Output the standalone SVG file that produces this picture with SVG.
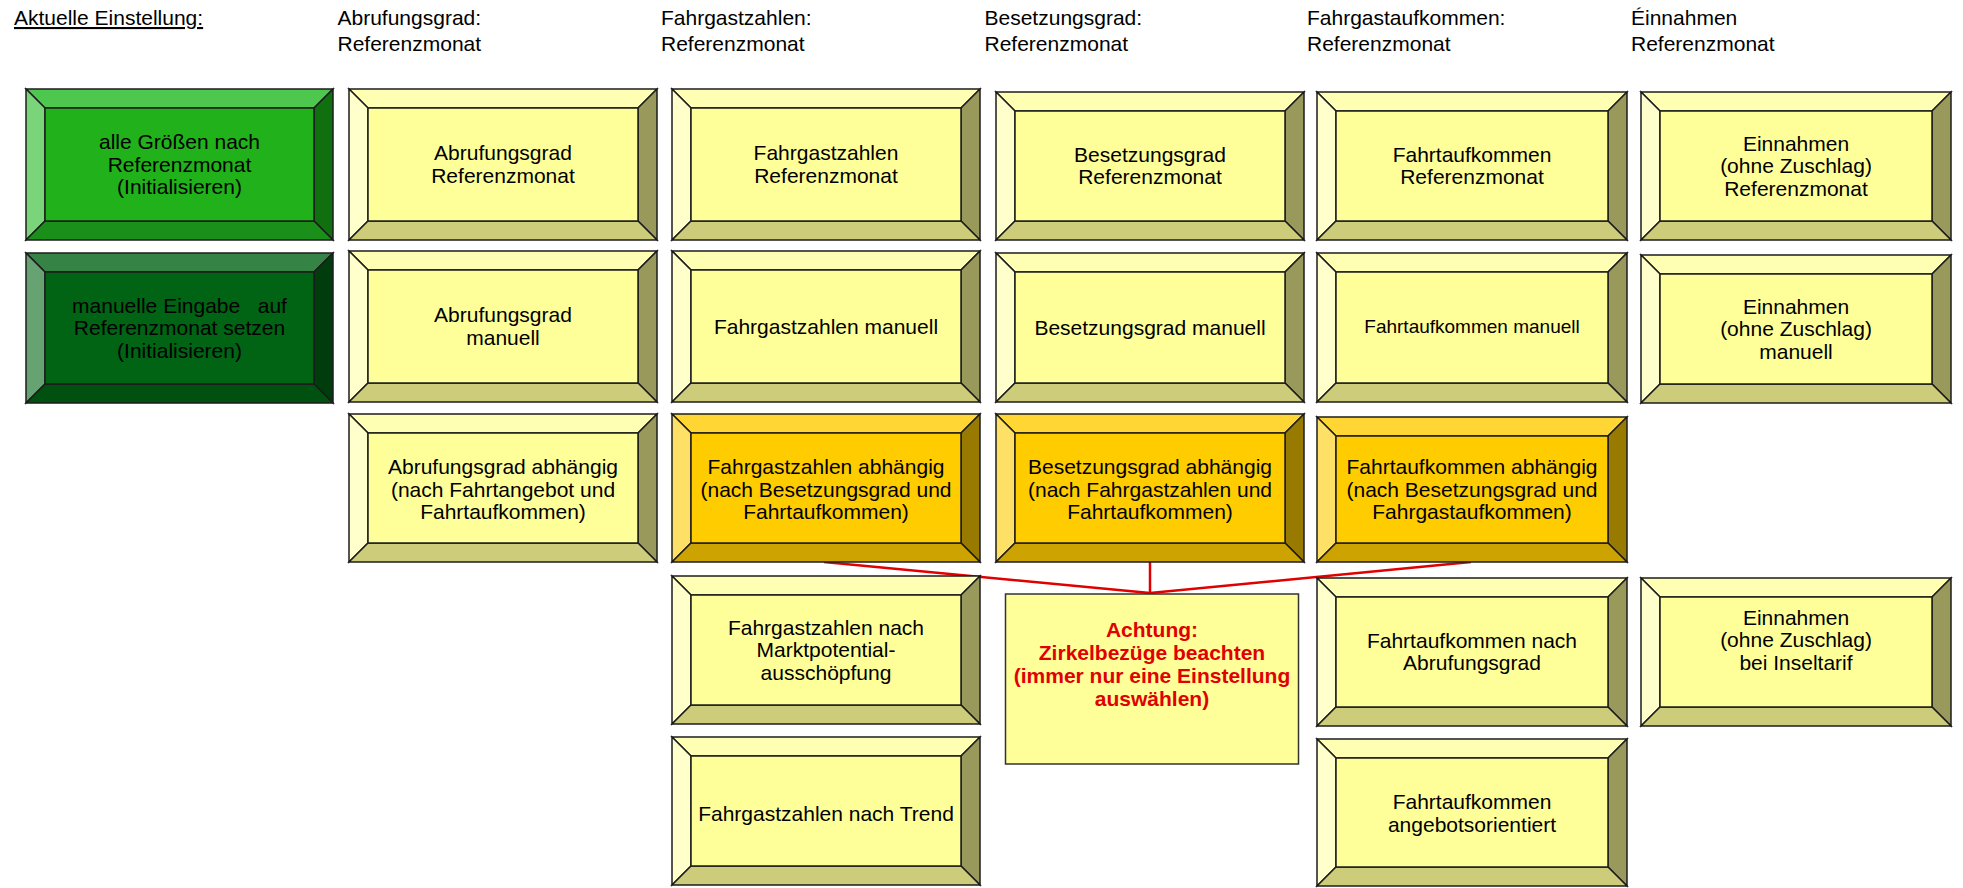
<svg xmlns="http://www.w3.org/2000/svg" width="1963" height="888" viewBox="0 0 1963 888">
<style>
text{font-family:"Liberation Sans",Arial,sans-serif;font-size:21px;fill:#000}
.hd{text-anchor:start}
.bv text{text-anchor:middle}
.bv polygon,.bv rect{stroke:#1c1c1c;stroke-width:1.5;stroke-linejoin:miter}
.y .t{fill:#FFFFB3}.y .l{fill:#FFFFCC}.y .r{fill:#99995C}.y .b{fill:#CCCC7A}.y .c{fill:#FFFF99}
.o .t{fill:#FFD633}.o .l{fill:#FFE066}.o .r{fill:#997A00}.o .b{fill:#CCA300}.o .c{fill:#FFCC00}
.g .t{fill:#4DC74D}.g .l{fill:#7AD57A}.g .r{fill:#107010}.g .b{fill:#1A901A}.g .c{fill:#21B11A}
.d .t{fill:#358446}.d .l{fill:#66A272}.d .r{fill:#003C0C}.d .b{fill:#005010}.d .c{fill:#006414}
.warn rect{fill:#FFFF99;stroke:#333;stroke-width:1.5}
.warn text{fill:#E00000;font-weight:bold;text-anchor:middle}
.conn line{stroke:#E00000;stroke-width:2.5}
</style>

<g id="headers">
<text class="hd" x="14" y="25" text-decoration="underline">Aktuelle Einstellung:</text>
<text class="hd" x="337.5" y="25">Abrufungsgrad:</text>
<text class="hd" x="337.5" y="51">Referenzmonat</text>
<text class="hd" x="661" y="25">Fahrgastzahlen:</text>
<text class="hd" x="661" y="51">Referenzmonat</text>
<text class="hd" x="984.5" y="25">Besetzungsgrad:</text>
<text class="hd" x="984.5" y="51">Referenzmonat</text>
<text class="hd" x="1307" y="25">Fahrgastaufkommen:</text>
<text class="hd" x="1307" y="51">Referenzmonat</text>
<text class="hd" x="1631" y="25">Éinnahmen</text>
<text class="hd" x="1631" y="51">Referenzmonat</text>
</g>

<g id="connectors" class="conn">
<line x1="824" y1="562" x2="1150" y2="593"/>
<line x1="1150" y1="562" x2="1150" y2="593"/>
<line x1="1471" y1="562" x2="1150" y2="593"/>
</g>

<g id="n-init-ref" class="bv g">
<polygon class="t" points="26,89 333,89 314,108 45,108"/>
<polygon class="l" points="26,89 45,108 45,221 26,240"/>
<polygon class="r" points="333,89 333,240 314,221 314,108"/>
<polygon class="b" points="26,240 45,221 314,221 333,240"/>
<rect class="c" x="45" y="108" width="269" height="113"/>
<text x="179.5" y="149">alle Größen nach</text>
<text x="179.5" y="171.5">Referenzmonat</text>
<text x="179.5" y="194">(Initialisieren)</text>
</g>

<g id="n-init-man" class="bv d">
<polygon class="t" points="26,253 333,253 314,272 45,272"/>
<polygon class="l" points="26,253 45,272 45,384 26,403"/>
<polygon class="r" points="333,253 333,403 314,384 314,272"/>
<polygon class="b" points="26,403 45,384 314,384 333,403"/>
<rect class="c" x="45" y="272" width="269" height="112"/>
<text x="179.5" y="312.5" style="white-space:pre">manuelle Eingabe   auf</text>
<text x="179.5" y="335">Referenzmonat setzen</text>
<text x="179.5" y="357.5">(Initialisieren)</text>
</g>

<g id="n-abr-ref" class="bv y">
<polygon class="t" points="349,89 657,89 638,108 368,108"/>
<polygon class="l" points="349,89 368,108 368,221 349,240"/>
<polygon class="r" points="657,89 657,240 638,221 638,108"/>
<polygon class="b" points="349,240 368,221 638,221 657,240"/>
<rect class="c" x="368" y="108" width="270" height="113"/>
<text x="503" y="160.25">Abrufungsgrad</text>
<text x="503" y="182.75">Referenzmonat</text>
</g>

<g id="n-abr-man" class="bv y">
<polygon class="t" points="349,251 657,251 638,270 368,270"/>
<polygon class="l" points="349,251 368,270 368,383 349,402"/>
<polygon class="r" points="657,251 657,402 638,383 638,270"/>
<polygon class="b" points="349,402 368,383 638,383 657,402"/>
<rect class="c" x="368" y="270" width="270" height="113"/>
<text x="503" y="322.25">Abrufungsgrad</text>
<text x="503" y="344.75">manuell</text>
</g>

<g id="n-abr-abh" class="bv y">
<polygon class="t" points="349,414 657,414 638,433 368,433"/>
<polygon class="l" points="349,414 368,433 368,543 349,562"/>
<polygon class="r" points="657,414 657,562 638,543 638,433"/>
<polygon class="b" points="349,562 368,543 638,543 657,562"/>
<rect class="c" x="368" y="433" width="270" height="110"/>
<text x="503" y="474">Abrufungsgrad abhängig</text>
<text x="503" y="496.5">(nach Fahrtangebot und</text>
<text x="503" y="519">Fahrtaufkommen)</text>
</g>

<g id="n-fgz-ref" class="bv y">
<polygon class="t" points="672,89 980,89 961,108 691,108"/>
<polygon class="l" points="672,89 691,108 691,221 672,240"/>
<polygon class="r" points="980,89 980,240 961,221 961,108"/>
<polygon class="b" points="672,240 691,221 961,221 980,240"/>
<rect class="c" x="691" y="108" width="270" height="113"/>
<text x="826" y="160.25">Fahrgastzahlen</text>
<text x="826" y="182.75">Referenzmonat</text>
</g>

<g id="n-fgz-man" class="bv y">
<polygon class="t" points="672,251 980,251 961,270 691,270"/>
<polygon class="l" points="672,251 691,270 691,383 672,402"/>
<polygon class="r" points="980,251 980,402 961,383 961,270"/>
<polygon class="b" points="672,402 691,383 961,383 980,402"/>
<rect class="c" x="691" y="270" width="270" height="113"/>
<text x="826" y="333.5">Fahrgastzahlen manuell</text>
</g>

<g id="n-fgz-abh" class="bv o">
<polygon class="t" points="672,414 980,414 961,433 691,433"/>
<polygon class="l" points="672,414 691,433 691,543 672,562"/>
<polygon class="r" points="980,414 980,562 961,543 961,433"/>
<polygon class="b" points="672,562 691,543 961,543 980,562"/>
<rect class="c" x="691" y="433" width="270" height="110"/>
<text x="826" y="474">Fahrgastzahlen abhängig</text>
<text x="826" y="496.5">(nach Besetzungsgrad und</text>
<text x="826" y="519">Fahrtaufkommen)</text>
</g>

<g id="n-fgz-markt" class="bv y">
<polygon class="t" points="672,576 980,576 961,595 691,595"/>
<polygon class="l" points="672,576 691,595 691,705 672,724"/>
<polygon class="r" points="980,576 980,724 961,705 961,595"/>
<polygon class="b" points="672,724 691,705 961,705 980,724"/>
<rect class="c" x="691" y="595" width="270" height="110"/>
<text x="826" y="634.5">Fahrgastzahlen nach</text>
<text x="826" y="657">Marktpotential-</text>
<text x="826" y="679.5">ausschöpfung</text>
</g>

<g id="n-fgz-trend" class="bv y">
<polygon class="t" points="672,737 980,737 961,756 691,756"/>
<polygon class="l" points="672,737 691,756 691,866 672,885"/>
<polygon class="r" points="980,737 980,885 961,866 961,756"/>
<polygon class="b" points="672,885 691,866 961,866 980,885"/>
<rect class="c" x="691" y="756" width="270" height="110"/>
<text x="826" y="820.5">Fahrgastzahlen nach Trend</text>
</g>

<g id="n-bes-ref" class="bv y">
<polygon class="t" points="996,92 1304,92 1285,111 1015,111"/>
<polygon class="l" points="996,92 1015,111 1015,221 996,240"/>
<polygon class="r" points="1304,92 1304,240 1285,221 1285,111"/>
<polygon class="b" points="996,240 1015,221 1285,221 1304,240"/>
<rect class="c" x="1015" y="111" width="270" height="110"/>
<text x="1150" y="161.75">Besetzungsgrad</text>
<text x="1150" y="184.25">Referenzmonat</text>
</g>

<g id="n-bes-man" class="bv y">
<polygon class="t" points="996,253 1304,253 1285,272 1015,272"/>
<polygon class="l" points="996,253 1015,272 1015,383 996,402"/>
<polygon class="r" points="1304,253 1304,402 1285,383 1285,272"/>
<polygon class="b" points="996,402 1015,383 1285,383 1304,402"/>
<rect class="c" x="1015" y="272" width="270" height="111"/>
<text x="1150" y="334.5">Besetzungsgrad manuell</text>
</g>

<g id="n-bes-abh" class="bv o">
<polygon class="t" points="996,414 1304,414 1285,433 1015,433"/>
<polygon class="l" points="996,414 1015,433 1015,543 996,562"/>
<polygon class="r" points="1304,414 1304,562 1285,543 1285,433"/>
<polygon class="b" points="996,562 1015,543 1285,543 1304,562"/>
<rect class="c" x="1015" y="433" width="270" height="110"/>
<text x="1150" y="474">Besetzungsgrad abhängig</text>
<text x="1150" y="496.5">(nach Fahrgastzahlen und</text>
<text x="1150" y="519">Fahrtaufkommen)</text>
</g>

<g id="n-fta-ref" class="bv y">
<polygon class="t" points="1317,92 1627,92 1608,111 1336,111"/>
<polygon class="l" points="1317,92 1336,111 1336,221 1317,240"/>
<polygon class="r" points="1627,92 1627,240 1608,221 1608,111"/>
<polygon class="b" points="1317,240 1336,221 1608,221 1627,240"/>
<rect class="c" x="1336" y="111" width="272" height="110"/>
<text x="1472" y="161.75">Fahrtaufkommen</text>
<text x="1472" y="184.25">Referenzmonat</text>
</g>

<g id="n-fta-man" class="bv y">
<polygon class="t" points="1317,253 1627,253 1608,272 1336,272"/>
<polygon class="l" points="1317,253 1336,272 1336,383 1317,402"/>
<polygon class="r" points="1627,253 1627,402 1608,383 1608,272"/>
<polygon class="b" points="1317,402 1336,383 1608,383 1627,402"/>
<rect class="c" x="1336" y="272" width="272" height="111"/>
<text x="1472" y="333" style="font-size:19px">Fahrtaufkommen manuell</text>
</g>

<g id="n-fta-abh" class="bv o">
<polygon class="t" points="1317,417 1627,417 1608,436 1336,436"/>
<polygon class="l" points="1317,417 1336,436 1336,543 1317,562"/>
<polygon class="r" points="1627,417 1627,562 1608,543 1608,436"/>
<polygon class="b" points="1317,562 1336,543 1608,543 1627,562"/>
<rect class="c" x="1336" y="436" width="272" height="107"/>
<text x="1472" y="474">Fahrtaufkommen abhängig</text>
<text x="1472" y="496.5">(nach Besetzungsgrad und</text>
<text x="1472" y="519">Fahrgastaufkommen)</text>
</g>

<g id="n-fta-abr" class="bv y">
<polygon class="t" points="1317,578 1627,578 1608,597 1336,597"/>
<polygon class="l" points="1317,578 1336,597 1336,707 1317,726"/>
<polygon class="r" points="1627,578 1627,726 1608,707 1608,597"/>
<polygon class="b" points="1317,726 1336,707 1608,707 1627,726"/>
<rect class="c" x="1336" y="597" width="272" height="110"/>
<text x="1472" y="647.75">Fahrtaufkommen nach</text>
<text x="1472" y="670.25">Abrufungsgrad</text>
</g>

<g id="n-fta-ang" class="bv y">
<polygon class="t" points="1317,739 1627,739 1608,758 1336,758"/>
<polygon class="l" points="1317,739 1336,758 1336,867 1317,886"/>
<polygon class="r" points="1627,739 1627,886 1608,867 1608,758"/>
<polygon class="b" points="1317,886 1336,867 1608,867 1627,886"/>
<rect class="c" x="1336" y="758" width="272" height="109"/>
<text x="1472" y="809.25">Fahrtaufkommen</text>
<text x="1472" y="831.75">angebotsorientiert</text>
</g>

<g id="n-ein-ref" class="bv y">
<polygon class="t" points="1641,92 1951,92 1932,111 1660,111"/>
<polygon class="l" points="1641,92 1660,111 1660,221 1641,240"/>
<polygon class="r" points="1951,92 1951,240 1932,221 1932,111"/>
<polygon class="b" points="1641,240 1660,221 1932,221 1951,240"/>
<rect class="c" x="1660" y="111" width="272" height="110"/>
<text x="1796" y="150.5">Einnahmen</text>
<text x="1796" y="173">(ohne Zuschlag)</text>
<text x="1796" y="195.5">Referenzmonat</text>
</g>

<g id="n-ein-man" class="bv y">
<polygon class="t" points="1641,255 1951,255 1932,274 1660,274"/>
<polygon class="l" points="1641,255 1660,274 1660,384 1641,403"/>
<polygon class="r" points="1951,255 1951,403 1932,384 1932,274"/>
<polygon class="b" points="1641,403 1660,384 1932,384 1951,403"/>
<rect class="c" x="1660" y="274" width="272" height="110"/>
<text x="1796" y="313.5">Einnahmen</text>
<text x="1796" y="336">(ohne Zuschlag)</text>
<text x="1796" y="358.5">manuell</text>
</g>

<g id="n-ein-insel" class="bv y">
<polygon class="t" points="1641,578 1951,578 1932,597 1660,597"/>
<polygon class="l" points="1641,578 1660,597 1660,707 1641,726"/>
<polygon class="r" points="1951,578 1951,726 1932,707 1932,597"/>
<polygon class="b" points="1641,726 1660,707 1932,707 1951,726"/>
<rect class="c" x="1660" y="597" width="272" height="110"/>
<text x="1796" y="624.5">Einnahmen</text>
<text x="1796" y="647">(ohne Zuschlag)</text>
<text x="1796" y="669.5">bei Inseltarif</text>
</g>

<g id="n-warnung" class="warn">
<rect x="1005.5" y="594" width="293" height="170"/>
<text x="1152" y="637">Achtung:</text>
<text x="1152" y="660">Zirkelbezüge beachten</text>
<text x="1152" y="683">(immer nur eine Einstellung</text>
<text x="1152" y="706">auswählen)</text>
</g>
</svg>
